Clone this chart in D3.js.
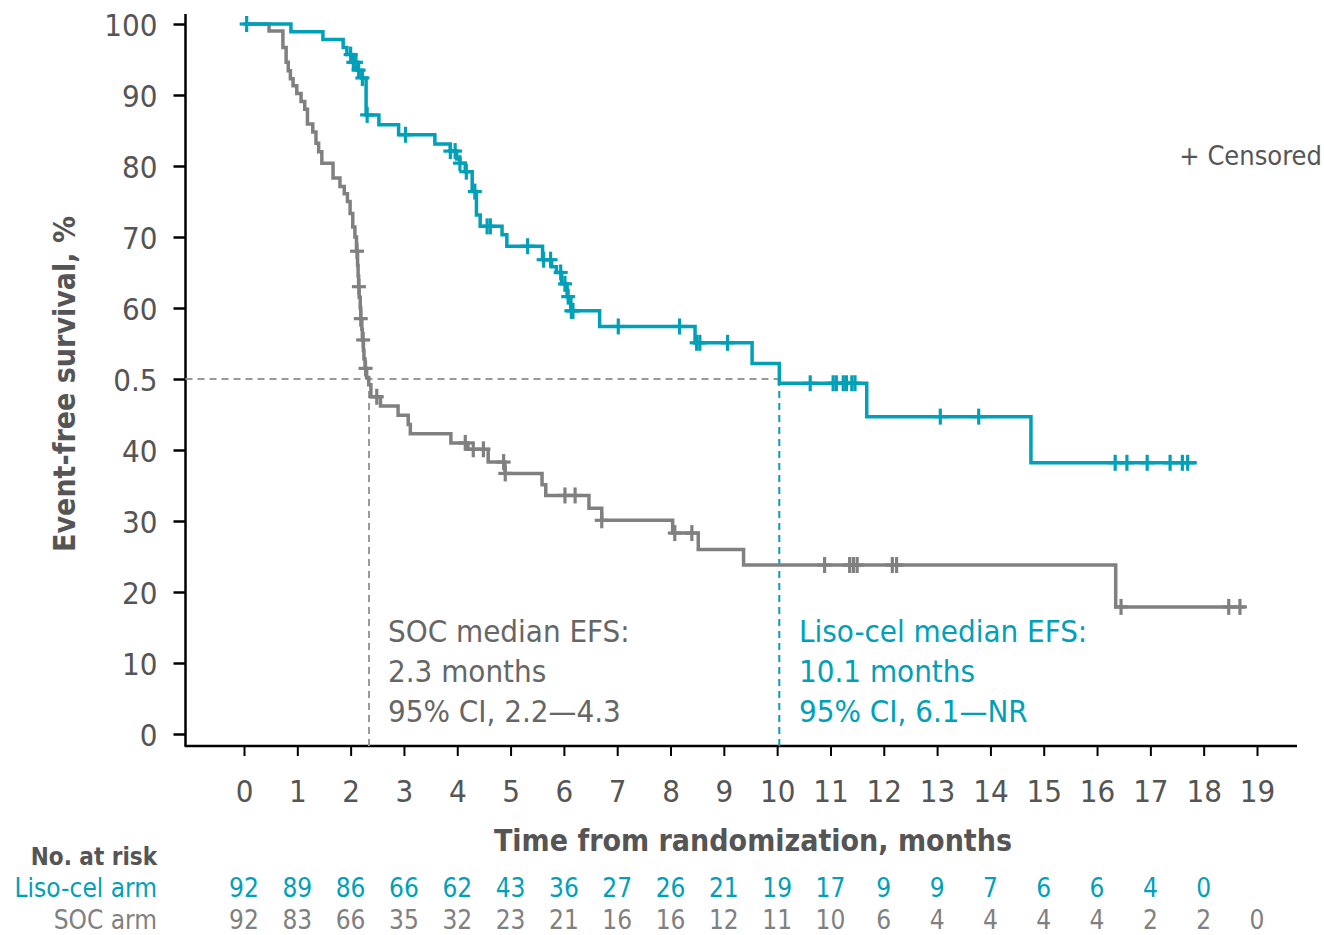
<!DOCTYPE html>
<html>
<head>
<meta charset="utf-8">
<script src="https://cdn.jsdelivr.net/npm/d3@7"></script>
<style>
  html, body { margin: 0; padding: 0; background: #fff; }
  svg { display: block; }
  text { font-family: "DejaVu Sans Condensed", "DejaVu Sans", sans-serif; }
</style>
</head>
<body>
<svg id="chart" width="1324" height="935"></svg>
<script>
// ---------------- DATA ----------------
const xTickValues = d3.range(0, 20);
const yTickValues = [0, 10, 20, 30, 40, 50, 60, 70, 80, 90, 100];
const yTickLabels = ["0", "10", "20", "30", "40", "0.5", "60", "70", "80", "90", "100"];

// Liso-cel arm: step drops [time (months), survival %]
const lisoSteps = [
  [0, 100], [0.88, 98.9], [1.48, 97.8], [1.86, 96.7], [1.93, 95.7], [2.02, 94.6],
  [2.12, 93.5], [2.21, 92.4], [2.29, 87.2], [2.53, 85.8], [2.90, 84.4], [3.58, 83.1],
  [3.87, 82.1], [3.99, 81.0], [4.05, 80.4], [4.15, 79.2], [4.28, 76.4], [4.36, 73.1],
  [4.43, 71.5], [4.84, 70.3], [4.93, 68.7], [5.60, 66.8], [5.77, 65.8], [5.86, 65.0],
  [5.96, 63.4], [6.06, 61.6], [6.13, 59.6], [6.67, 57.4], [8.46, 55.1], [9.53, 52.2],
  [10.04, 49.4], [11.68, 44.7], [14.76, 38.2]
];
const lisoEnd = 17.87;
const lisoCensors = [0.05, 2.00, 2.05, 2.10, 2.15, 2.22, 2.31, 3.03, 3.87, 3.96, 4.05,
  4.17, 4.33, 4.56, 4.62, 5.32, 5.62, 5.75, 5.94, 6.02, 6.08, 6.14, 6.17, 7.02, 8.17,
  8.49, 8.55, 9.07, 10.62, 11.05, 11.11, 11.24, 11.30, 11.40, 11.46, 13.06, 13.78,
  16.34, 16.56, 16.94, 17.37, 17.60, 17.70];

// SOC arm
const socSteps = [
  [0, 100], [0.47, 99.0], [0.73, 96.7], [0.79, 94.6], [0.83, 93.4], [0.87, 92.3],
  [0.92, 91.3], [0.99, 90.2], [1.07, 89.1], [1.14, 88.0], [1.19, 85.9], [1.29, 84.8],
  [1.35, 83.2], [1.40, 82.0], [1.46, 80.4], [1.67, 78.3], [1.80, 77.1], [1.88, 76.1],
  [1.94, 75.0], [1.99, 73.3], [2.04, 71.4], [2.08, 70.0], [2.11, 68.0], [2.13, 66.0],
  [2.14, 64.5], [2.15, 63.0], [2.16, 61.5], [2.18, 60.0], [2.19, 58.5], [2.21, 57.0],
  [2.22, 55.5], [2.24, 54.0], [2.25, 52.8], [2.27, 51.5], [2.30, 50.2], [2.34, 49.2],
  [2.38, 47.5], [2.56, 46.2], [2.89, 44.9], [3.08, 43.6], [3.12, 42.3], [3.88, 41.0],
  [4.20, 40.1], [4.58, 38.3], [4.895, 36.7], [5.59, 35.1], [5.66, 33.6], [6.47, 31.8],
  [6.71, 30.1], [8.04, 28.3], [8.52, 26.0], [9.37, 23.8], [16.35, 17.9]
];
const socEnd = 18.77;
const socCensors = [2.12, 2.155, 2.19, 2.235, 2.28, 2.49, 4.15, 4.30, 4.49, 4.87, 4.90,
  6.02, 6.21, 6.71, 8.08, 8.40, 10.89, 11.36, 11.43, 11.50, 12.16, 12.24, 16.45, 18.47, 18.68];

const socMedian = 2.345;
const lisoMedian = 10.04;

const lisoAtRisk = [92, 89, 86, 66, 62, 43, 36, 27, 26, 21, 19, 17, 9, 9, 7, 6, 6, 4, 0];
const socAtRisk = [92, 83, 66, 35, 32, 23, 21, 16, 16, 12, 11, 10, 6, 4, 4, 4, 4, 2, 2, 0];

const socText = ["SOC median EFS:", "2.3 months", "95% CI, 2.2\u20144.3"];
const lisoText = ["Liso-cel median EFS:", "10.1 months", "95% CI, 6.1\u2014NR"];

// ---------------- STYLE ----------------
const TEAL = "#00a0b8";
const GREY = "#808080";
const DARK = "#555555";

const svg = d3.select("#chart");
const x = d3.scaleLinear().domain([0, 19]).range([244, 1257]);
const y = d3.scaleLinear().domain([0, 100]).range([734, 24]);
const axisY = 746, axisX = 185.5;

// axes
const yAxis = d3.axisLeft(y).tickValues(yTickValues)
  .tickFormat((d, i) => yTickLabels[i]).tickSize(12).tickPadding(16).tickSizeOuter(0);
const gy = svg.append("g").attr("transform", `translate(${axisX},0)`).call(yAxis);
gy.select(".domain").remove();
gy.selectAll(".tick line").attr("stroke", "#000").attr("stroke-width", 2.5);
gy.selectAll(".tick text").attr("font-size", 31).attr("fill", DARK).attr("dy", "0.36em");
svg.append("line").attr("x1", axisX).attr("x2", axisX).attr("y1", 14).attr("y2", axisY)
  .attr("stroke", "#000").attr("stroke-width", 2.5);

const xAxis = d3.axisBottom(x).tickValues(xTickValues).tickFormat(d3.format("d"))
  .tickSize(10).tickPadding(24).tickSizeOuter(0);
const gx = svg.append("g").attr("transform", `translate(0,${axisY})`).call(xAxis);
gx.select(".domain").remove();
gx.selectAll(".tick line").attr("stroke", "#000").attr("stroke-width", 2);
gx.selectAll(".tick text").attr("font-size", 31).attr("fill", DARK);
svg.append("line").attr("x1", axisX - 1).attr("x2", 1297).attr("y1", axisY).attr("y2", axisY)
  .attr("stroke", "#000").attr("stroke-width", 2.5);

// axis titles
svg.append("text").attr("x", 753).attr("y", 851).attr("text-anchor", "middle")
  .attr("font-size", 30).attr("font-weight", "bold").attr("fill", DARK)
  .text("Time from randomization, months");
svg.append("text").attr("transform", "translate(75,384) rotate(-90)").attr("text-anchor", "middle")
  .attr("font-size", 30).attr("font-weight", "bold").attr("fill", DARK)
  .text("Event-free survival, %");

// dashed median lines
svg.append("line").attr("x1", axisX).attr("x2", x(lisoMedian)).attr("y1", y(50)).attr("y2", y(50))
  .attr("stroke", "#999").attr("stroke-width", 2).attr("stroke-dasharray", "7,5");
svg.append("line").attr("x1", x(socMedian)).attr("x2", x(socMedian)).attr("y1", y(50)).attr("y2", axisY)
  .attr("stroke", "#999").attr("stroke-width", 2).attr("stroke-dasharray", "7,5");
svg.append("line").attr("x1", x(lisoMedian)).attr("x2", x(lisoMedian)).attr("y1", y(50)).attr("y2", axisY)
  .attr("stroke", TEAL).attr("stroke-width", 2).attr("stroke-dasharray", "7,5");

// KM curves
function stepPoints(steps, end) {
  const pts = steps.map(d => [d[0], d[1]]);
  pts.push([end, steps[steps.length - 1][1]]);
  return pts;
}
function survAt(steps, t) {
  let s = steps[0][1];
  for (const d of steps) { if (d[0] <= t) s = d[1]; }
  return s;
}
const line = d3.line().x(d => x(d[0])).y(d => y(d[1])).curve(d3.curveStepAfter);

function drawArm(steps, end, censors, color) {
  svg.append("path").datum(stepPoints(steps, end)).attr("d", line)
    .attr("fill", "none").attr("stroke", color).attr("stroke-width", 3.5);
  const g = svg.append("g");
  censors.forEach(t => {
    const cx = x(t), cy = y(survAt(steps, t));
    g.append("line").attr("x1", cx).attr("x2", cx).attr("y1", cy - 8).attr("y2", cy + 8)
      .attr("stroke", color).attr("stroke-width", 3.2);
    g.append("line").attr("x1", cx - 7).attr("x2", cx + 7).attr("y1", cy).attr("y2", cy)
      .attr("stroke", color).attr("stroke-width", 3.2);
  });
}
drawArm(socSteps, socEnd, socCensors, GREY);
drawArm(lisoSteps, lisoEnd, lisoCensors, TEAL);

// annotations
socText.forEach((t, i) => svg.append("text").attr("x", 388).attr("y", 642 + i * 40)
  .attr("font-size", 31).attr("fill", "#666").text(t));
lisoText.forEach((t, i) => svg.append("text").attr("x", 799).attr("y", 642 + i * 40)
  .attr("font-size", 31).attr("fill", TEAL).text(t));

svg.append("text").attr("x", 1322).attr("y", 165).attr("text-anchor", "end")
  .attr("font-size", 27).attr("fill", DARK).text("+ Censored");

// risk table
svg.append("text").attr("x", 157).attr("y", 865).attr("text-anchor", "end")
  .attr("font-size", 24).attr("font-weight", "bold").attr("fill", DARK).text("No. at risk");
svg.append("text").attr("x", 157).attr("y", 897).attr("text-anchor", "end")
  .attr("font-size", 26).attr("fill", TEAL).text("Liso-cel arm");
svg.append("text").attr("x", 157).attr("y", 929).attr("text-anchor", "end")
  .attr("font-size", 26).attr("fill", GREY).text("SOC arm");

svg.append("g").selectAll("text").data(lisoAtRisk).join("text")
  .attr("x", (d, i) => x(xTickValues[i])).attr("y", 897).attr("text-anchor", "middle")
  .attr("font-size", 26).attr("fill", TEAL).text(d => d);
svg.append("g").selectAll("text").data(socAtRisk).join("text")
  .attr("x", (d, i) => x(xTickValues[i])).attr("y", 929).attr("text-anchor", "middle")
  .attr("font-size", 26).attr("fill", GREY).text(d => d);
</script>
</body>
</html>
